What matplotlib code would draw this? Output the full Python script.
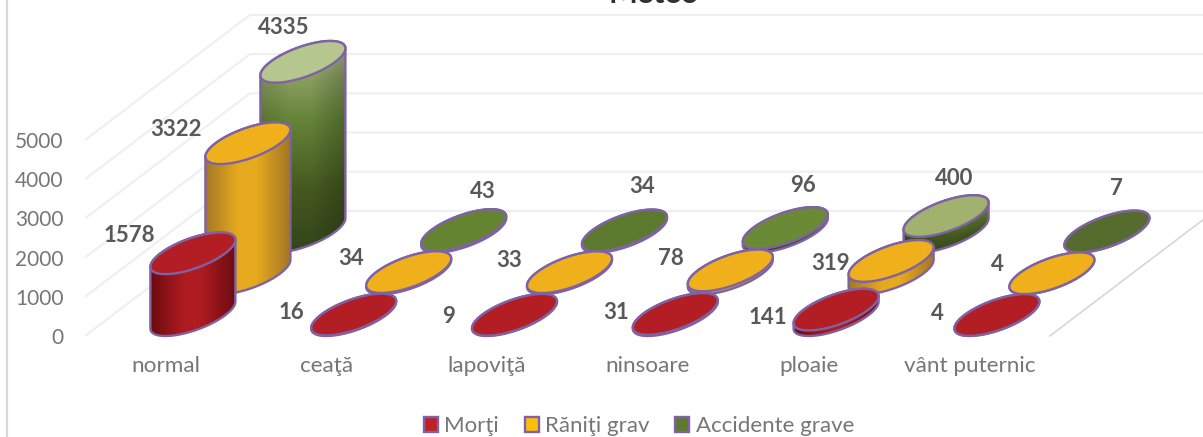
import numpy as np
import matplotlib
matplotlib.use("Agg")
import matplotlib.pyplot as plt
from matplotlib.patches import Patch, PathPatch
from matplotlib.path import Path
from matplotlib.colors import to_rgb

# ---------- data ----------
categories = ["normal", "ceaţă", "lapoviţă", "ninsoare", "ploaie", "vânt puternic"]
morti = [1578, 16, 9, 31, 141, 4]
raniti = [3322, 34, 33, 78, 319, 4]
accidente = [4335, 43, 34, 96, 400, 7]
series_names = ["Morţi", "Răniţi grav", "Accidente grave"]
y_ticks = [0, 1000, 2000, 3000, 4000, 5000]

# ---------- styles / layout (pixels) ----------
W, H = 1203, 437
LEFT, FLOOR_Y, AX_BOTTOM = 85, 336, 352
CAT_PX, VAL_PX = 160.8, 0.0392
DEPTH_X, DEPTH_Y = 55, 41.7
RX, DEPTH_R = 32.4, 0.5
PURPLE = "#7f62a3"
TEXT = "#767676"
LABEL = "#595959"
GRID = "#efefef"
FONT = "Lato"

top_red = ["#b21e23"] * 6
top_yellow = ["#f0b01c"] * 6
top_green = ["#b5c68e", "#648432", "#5b7a2e", "#6b8a35", "#a0b26e", "#566b2e"]

label_off = [
    [(-64, -17.5), (-62, -2), (-66, 2), (-59, -1), (-68, 8), (-60, -1)],
    [(-72, -14), (-58, -14), (-60, -12), (-59, -11.5), (-61, 3), (-55, -9)],
    [(-19, -34), (19, -39), (18, -44), (18, -42), (8, -38), (10, -43)],
]

plt.rcParams["font.family"] = [FONT, "DejaVu Sans"]
fig = plt.figure(figsize=(W / 100, H / 100), dpi=100)
ax = fig.add_axes([LEFT / W, (H - AX_BOTTOM) / H, 1 - LEFT / W, AX_BOTTOM / H])
xlim = (-0.5, -0.5 + (W - LEFT) / CAT_PX)
ylim = ((FLOOR_Y - AX_BOTTOM) / VAL_PX, FLOOR_Y / VAL_PX)
ax.patch.set_alpha(0)
for s in ax.spines.values():
    s.set_visible(False)


def dx(px):
    return px / CAT_PX


def dy(px):
    return px / VAL_PX


n_cat = len(categories)
depth_total = 3
# gridlines: floor-slanted part then back wall
for v in y_ticks:
    xs = [xlim[0], xlim[0] + dx(DEPTH_X * depth_total), xlim[1]]
    yb = v + dy(DEPTH_Y * depth_total)
    ax.plot(xs, [v, yb, yb], color=GRID, lw=1.5, zorder=1, solid_capstyle="butt")
# right floor edge
ax.plot([n_cat - 0.5, n_cat - 0.5 + dx(DEPTH_X * depth_total)],
        [0, dy(DEPTH_Y * depth_total)], color="#d4d4d4", lw=1.1, zorder=1)

T_STAR = np.arctan2(DEPTH_R * DEPTH_X, RX)


def ell(t):
    return (RX * np.cos(t) + DEPTH_R * DEPTH_X * np.sin(t), DEPTH_R * DEPTH_Y * np.sin(t))


def hgrad(edgeL, mid, edgeR, nx=80):
    u = np.linspace(0, 1, nx)
    c = [np.interp(u, [0, 0.4, 0.6, 1], [to_rgb(edgeL)[j], to_rgb(mid)[j], to_rgb(mid)[j], to_rgb(edgeR)[j]]) for j in range(3)]
    return np.stack(c, axis=-1)[np.newaxis, :, :]


def green_grad(nx=80, ny=80):
    f = np.linspace(0, 1, ny)
    stops = [0, 0.17, 0.36, 0.7, 1]
    cols = ["#b9c79c", "#8a9f60", "#66853a", "#45591f", "#33451c"]
    vert = np.stack([np.interp(f, stops, [to_rgb(c)[j] for c in cols]) for j in range(3)], axis=-1)
    u = np.linspace(0, 1, nx)
    hf = np.interp(u, [0, 0.35, 0.6, 1], [0.88, 1, 1, 0.78])
    return vert[:, np.newaxis, :] * hf[np.newaxis, :, np.newaxis]


body_imgs = [hgrad("#6b0a0e", "#ae1c21", "#6e0c10"),
             hgrad("#a57825", "#e7aa1e", "#a57825"),
             green_grad()]
series = [morti, raniti, accidente]
tops = [top_red, top_yellow, top_green]

z = 2.0
for k in (2, 1, 0):
    values = series[k]
    for i, v in enumerate(values):
        cx = i + dx(DEPTH_X * (k + 0.5))
        base = dy(DEPTH_Y * (k + 0.5))
        y0, y1 = base, base + v
        t = np.linspace(T_STAR, T_STAR - np.pi, 60)
        ox, oy = ell(t)
        bx, by = cx + dx(ox), y0 + dy(oy)
        t = np.linspace(T_STAR + np.pi, T_STAR, 60)
        ox, oy = ell(t)
        tx, ty = cx + dx(ox), y1 + dy(oy)
        verts = np.column_stack([np.r_[bx, tx], np.r_[by, ty]])
        sil = PathPatch(Path(np.vstack([verts, verts[0]]), closed=True), fc="none", ec=PURPLE, lw=1.7, zorder=z + 0.2)
        ax.add_patch(sil)
        im = ax.imshow(body_imgs[k], extent=(bx.min(), bx.max(), by.min(), ty.max()), origin="upper",
                       aspect="auto", interpolation="bilinear", zorder=z + 0.1)
        im.set_clip_path(sil)
        t = np.linspace(0, 2 * np.pi, 120)
        ox, oy = ell(t)
        ax.fill(cx + dx(ox), y1 + dy(oy), fc=tops[k][i], ec=PURPLE, lw=1.7, zorder=z + 0.3)
        z += 0.5

for k in range(3):
    for i, v in enumerate(series[k]):
        ox, oy = label_off[k][i]
        ax.text(i + dx(DEPTH_X * (k + 0.5) + ox), v + dy(DEPTH_Y * (k + 0.5) - oy), str(v),
                ha="center", va="center", fontsize=16, fontweight="bold", color=LABEL, zorder=50)

ax.set_xlim(*xlim)
ax.set_ylim(*ylim)
ax.set_xticks(range(n_cat))
ax.set_xticklabels(categories)
ax.set_yticks(y_ticks)
ax.tick_params(axis="both", length=0, labelcolor=TEXT)
ax.tick_params(axis="y", pad=15.5, labelsize=15)
ax.tick_params(axis="x", pad=3, labelsize=16.2)

ax.set_title("Meteo", fontsize=22, fontweight="bold", color="#303030", y=1.0, pad=-2, va="baseline", x=0.509)

# chart frame, left side
fig.add_artist(plt.Line2D([7 / W, 7 / W], [0, 1], color="#d9d9d9", lw=1.6))

handles = [Patch(fc=c, ec=PURPLE, lw=1.7) for c in ("#c01f26", "#fcbf10", "#5d7a2e")]
fig.legend(handles, series_names, loc="center", bbox_to_anchor=(639 / W, 1 - 426.5 / H), ncol=3, frameon=False,
           fontsize=16, labelcolor=TEXT, handlelength=0.63, handleheight=0.63, handletextpad=0.3,
           columnspacing=1.15, borderpad=0)

fig.savefig("out.png", dpi=100)
